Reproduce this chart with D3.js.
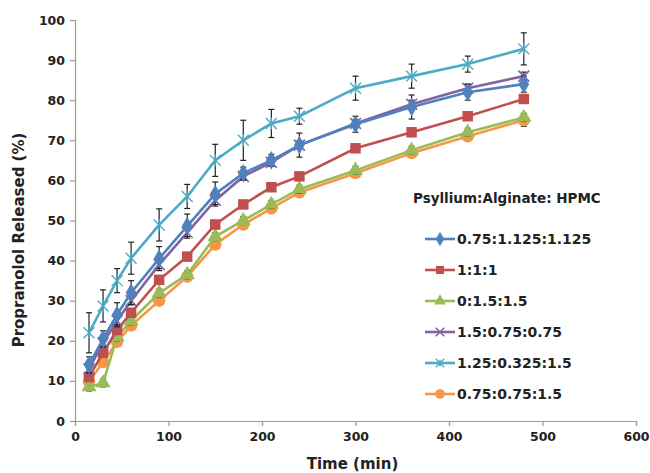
<!DOCTYPE html>
<html>
<head>
<meta charset="utf-8">
<script src="https://cdn.jsdelivr.net/npm/d3@7"></script>
<style>
	body { margin: 0; background: #fff; }
	text { font-family: "DejaVu Sans", sans-serif; font-weight: bold; fill: #222; }
</style>
</head>
<body>
<script>
// sampling times (min)
const times = [15, 30, 45, 60, 90, 120, 150, 180, 210, 240, 300, 360, 420, 480];

const seriesNames = ["0.75:1.125:1.125", "1:1:1", "0:1.5:1.5", "1.5:0.75:0.75", "1.25:0.325:1.5", "0.75:0.75:1.5"];
const seriesColors = ["#4F81BD", "#C0504D", "#9BBB59", "#8064A2", "#4BACC6", "#F79646"];
const seriesMarkers = ["diamond", "square", "triangle", "cross", "asterisk", "circle"];

const blueVals = [14, 20.5, 26.5, 32, 40.5, 48.6, 56.6, 61.8, 65, 68.8, 74, 78.3, 82, 84];
const redVals = [11, 17, 22.7, 27, 35.2, 41, 49, 54, 58.3, 61, 68, 72, 76, 80.3];
const greenVals = [8.5, 9.5, 21, 25, 31.9, 36.5, 46, 50, 54, 57.8, 62.5, 67.5, 72, 75.7];
const purpleVals = [13, 19.5, 25, 30, 39, 47, 55, 61, 64.5, 68.8, 74.2, 79, 83, 86];
const cyanVals = [22, 28.7, 35, 40.6, 48.9, 56, 65, 70, 74.2, 76, 83, 86, 89, 92.8];
const orangeVals = [9.8, 14.7, 19.7, 23.8, 30, 36, 44, 49, 53, 57, 61.8, 66.8, 71, 75];

// standard deviations (error bars)
const blueErr = [2, 2, 3, 3, 3, 3, 3, 1.5, 1.5, 3, 2, 3, 2, 2];
const redErr = [1, 1, 1, 1, 1, 1, 1, 1, 1, 1, 1, 1, 1, 1];
const greenErr = [1, 1, 1, 1, 1, 1, 1, 1, 1, 1, 1, 1, 1, 1];
const purpleErr = [1, 1, 1, 1, 1, 1, 1, 1, 1, 1, 1, 1, 1, 1];
const cyanErr = [5, 4, 3, 4, 4, 3, 4, 5, 3.5, 2, 3, 3, 2, 4];
const orangeErr = [1, 1, 1, 1, 1, 1, 1, 1, 1, 1, 1, 1, 1, 1.5];

const xTicks = [0, 100, 200, 300, 400, 500, 600];
const yTicks = [0, 10, 20, 30, 40, 50, 60, 70, 80, 90, 100];

const allVals = [blueVals, redVals, greenVals, purpleVals, cyanVals, orangeVals];
const allErr = [blueErr, redErr, greenErr, purpleErr, cyanErr, orangeErr];

const series = seriesNames.map((name, i) => ({
	name: name,
	color: seriesColors[i],
	marker: seriesMarkers[i],
	points: times.map((t, j) => ({ t: t, v: allVals[i][j], e: allErr[i][j] }))
}));

const width = 650;
const height = 473;
const margin = { left: 75, right: 14, top: 20, bottom: 52 };

const svg = d3.select("body").append("svg")
	.attr("width", width)
	.attr("height", height);

const x = d3.scaleLinear().domain([0, 600]).range([margin.left, width - margin.right]);
const y = d3.scaleLinear().domain([0, 100]).range([height - margin.bottom, margin.top]);

// axes
const xAxis = svg.append("g")
	.attr("transform", `translate(0,${height - margin.bottom})`)
	.call(d3.axisBottom(x).tickValues(xTicks).tickSize(5).tickPadding(6));
const yAxis = svg.append("g")
	.attr("transform", `translate(${margin.left},0)`)
	.call(d3.axisLeft(y).tickValues(yTicks).tickSize(5).tickPadding(5));
[xAxis, yAxis].forEach((a) => {
	a.selectAll("path, line").attr("stroke", "#9a9a9a").attr("stroke-width", 1.2);
	a.selectAll("text").style("font-size", "12.5px").attr("fill", "#222");
});

svg.append("text")
	.attr("x", x(300) - 3)
	.attr("y", 469)
	.attr("text-anchor", "middle")
	.style("font-size", "15px")
	.text("Time (min)");

svg.append("text")
	.attr("transform", `translate(24,240) rotate(-90)`)
	.attr("text-anchor", "middle")
	.style("font-size", "15px")
	.text("Propranolol Released (%)");

// markers
const drawMarker = (g, type, color, size) => {
	if (type == "diamond") {
		g.append("path").attr("d", d3.symbol(d3.symbolDiamond, size * 10)()).attr("fill", color);
	} else if (type == "square") {
		g.append("path").attr("d", d3.symbol(d3.symbolSquare, size * 11)()).attr("fill", color);
	} else if (type == "triangle") {
		g.append("path").attr("d", d3.symbol(d3.symbolTriangle, size * 10)()).attr("fill", color);
	} else if (type == "circle") {
		g.append("path").attr("d", d3.symbol(d3.symbolCircle, size * 12)()).attr("fill", color);
	} else if (type == "cross") {
		g.append("path").attr("d", d3.symbol(d3.symbolX, size * 8)()).attr("fill", "none")
			.attr("stroke", color).attr("stroke-width", 1.6);
	} else {
		g.append("path").attr("d", d3.symbol(d3.symbolX, size * 8)()).attr("fill", "none")
			.attr("stroke", color).attr("stroke-width", 1.4);
		g.append("line").attr("x1", 0).attr("x2", 0).attr("y1", -size * 0.6).attr("y2", size * 0.6)
			.attr("stroke", color).attr("stroke-width", 1.4);
	}
};

const line = d3.line()
	.x((d) => x(d.t))
	.y((d) => y(d.v));

// draw in z-order similar to the reference
const order = [5, 2, 1, 3, 0, 4];
order.forEach((i) => {
	const s = series[i];
	const g = svg.append("g");
	g.append("path")
		.datum(s.points)
		.attr("fill", "none")
		.attr("stroke", s.color)
		.attr("stroke-width", 2.6)
		.attr("d", line);

	// error bars
	const eb = g.append("g").attr("stroke", "#222").attr("stroke-width", 1.2);
	s.points.forEach((p) => {
		eb.append("line").attr("x1", x(p.t)).attr("x2", x(p.t)).attr("y1", y(p.v - p.e)).attr("y2", y(p.v + p.e));
		eb.append("line").attr("x1", x(p.t) - 3).attr("x2", x(p.t) + 3).attr("y1", y(p.v - p.e)).attr("y2", y(p.v - p.e));
		eb.append("line").attr("x1", x(p.t) - 3).attr("x2", x(p.t) + 3).attr("y1", y(p.v + p.e)).attr("y2", y(p.v + p.e));
	});

	s.points.forEach((p) => {
		const m = g.append("g").attr("transform", `translate(${x(p.t)},${y(p.v)})`);
		drawMarker(m, s.marker, s.color, 10);
	});
});

// legend
svg.append("text")
	.attr("x", 413)
	.attr("y", 203)
	.style("font-size", "13.5px")
	.text("Psyllium:Alginate: HPMC");

series.forEach((s, i) => {
	const ly = 239 + i * 31;
	const lg = svg.append("g");
	lg.append("line").attr("x1", 425).attr("x2", 455).attr("y1", ly).attr("y2", ly)
		.attr("stroke", s.color).attr("stroke-width", 2.6);
	const m = lg.append("g").attr("transform", `translate(440,${ly})`);
	drawMarker(m, s.marker, s.color, 6);
	lg.append("text")
		.attr("x", 457)
		.attr("y", ly + 5)
		.style("font-size", "14px")
		.text(s.name);
});
</script>
</body>
</html>
